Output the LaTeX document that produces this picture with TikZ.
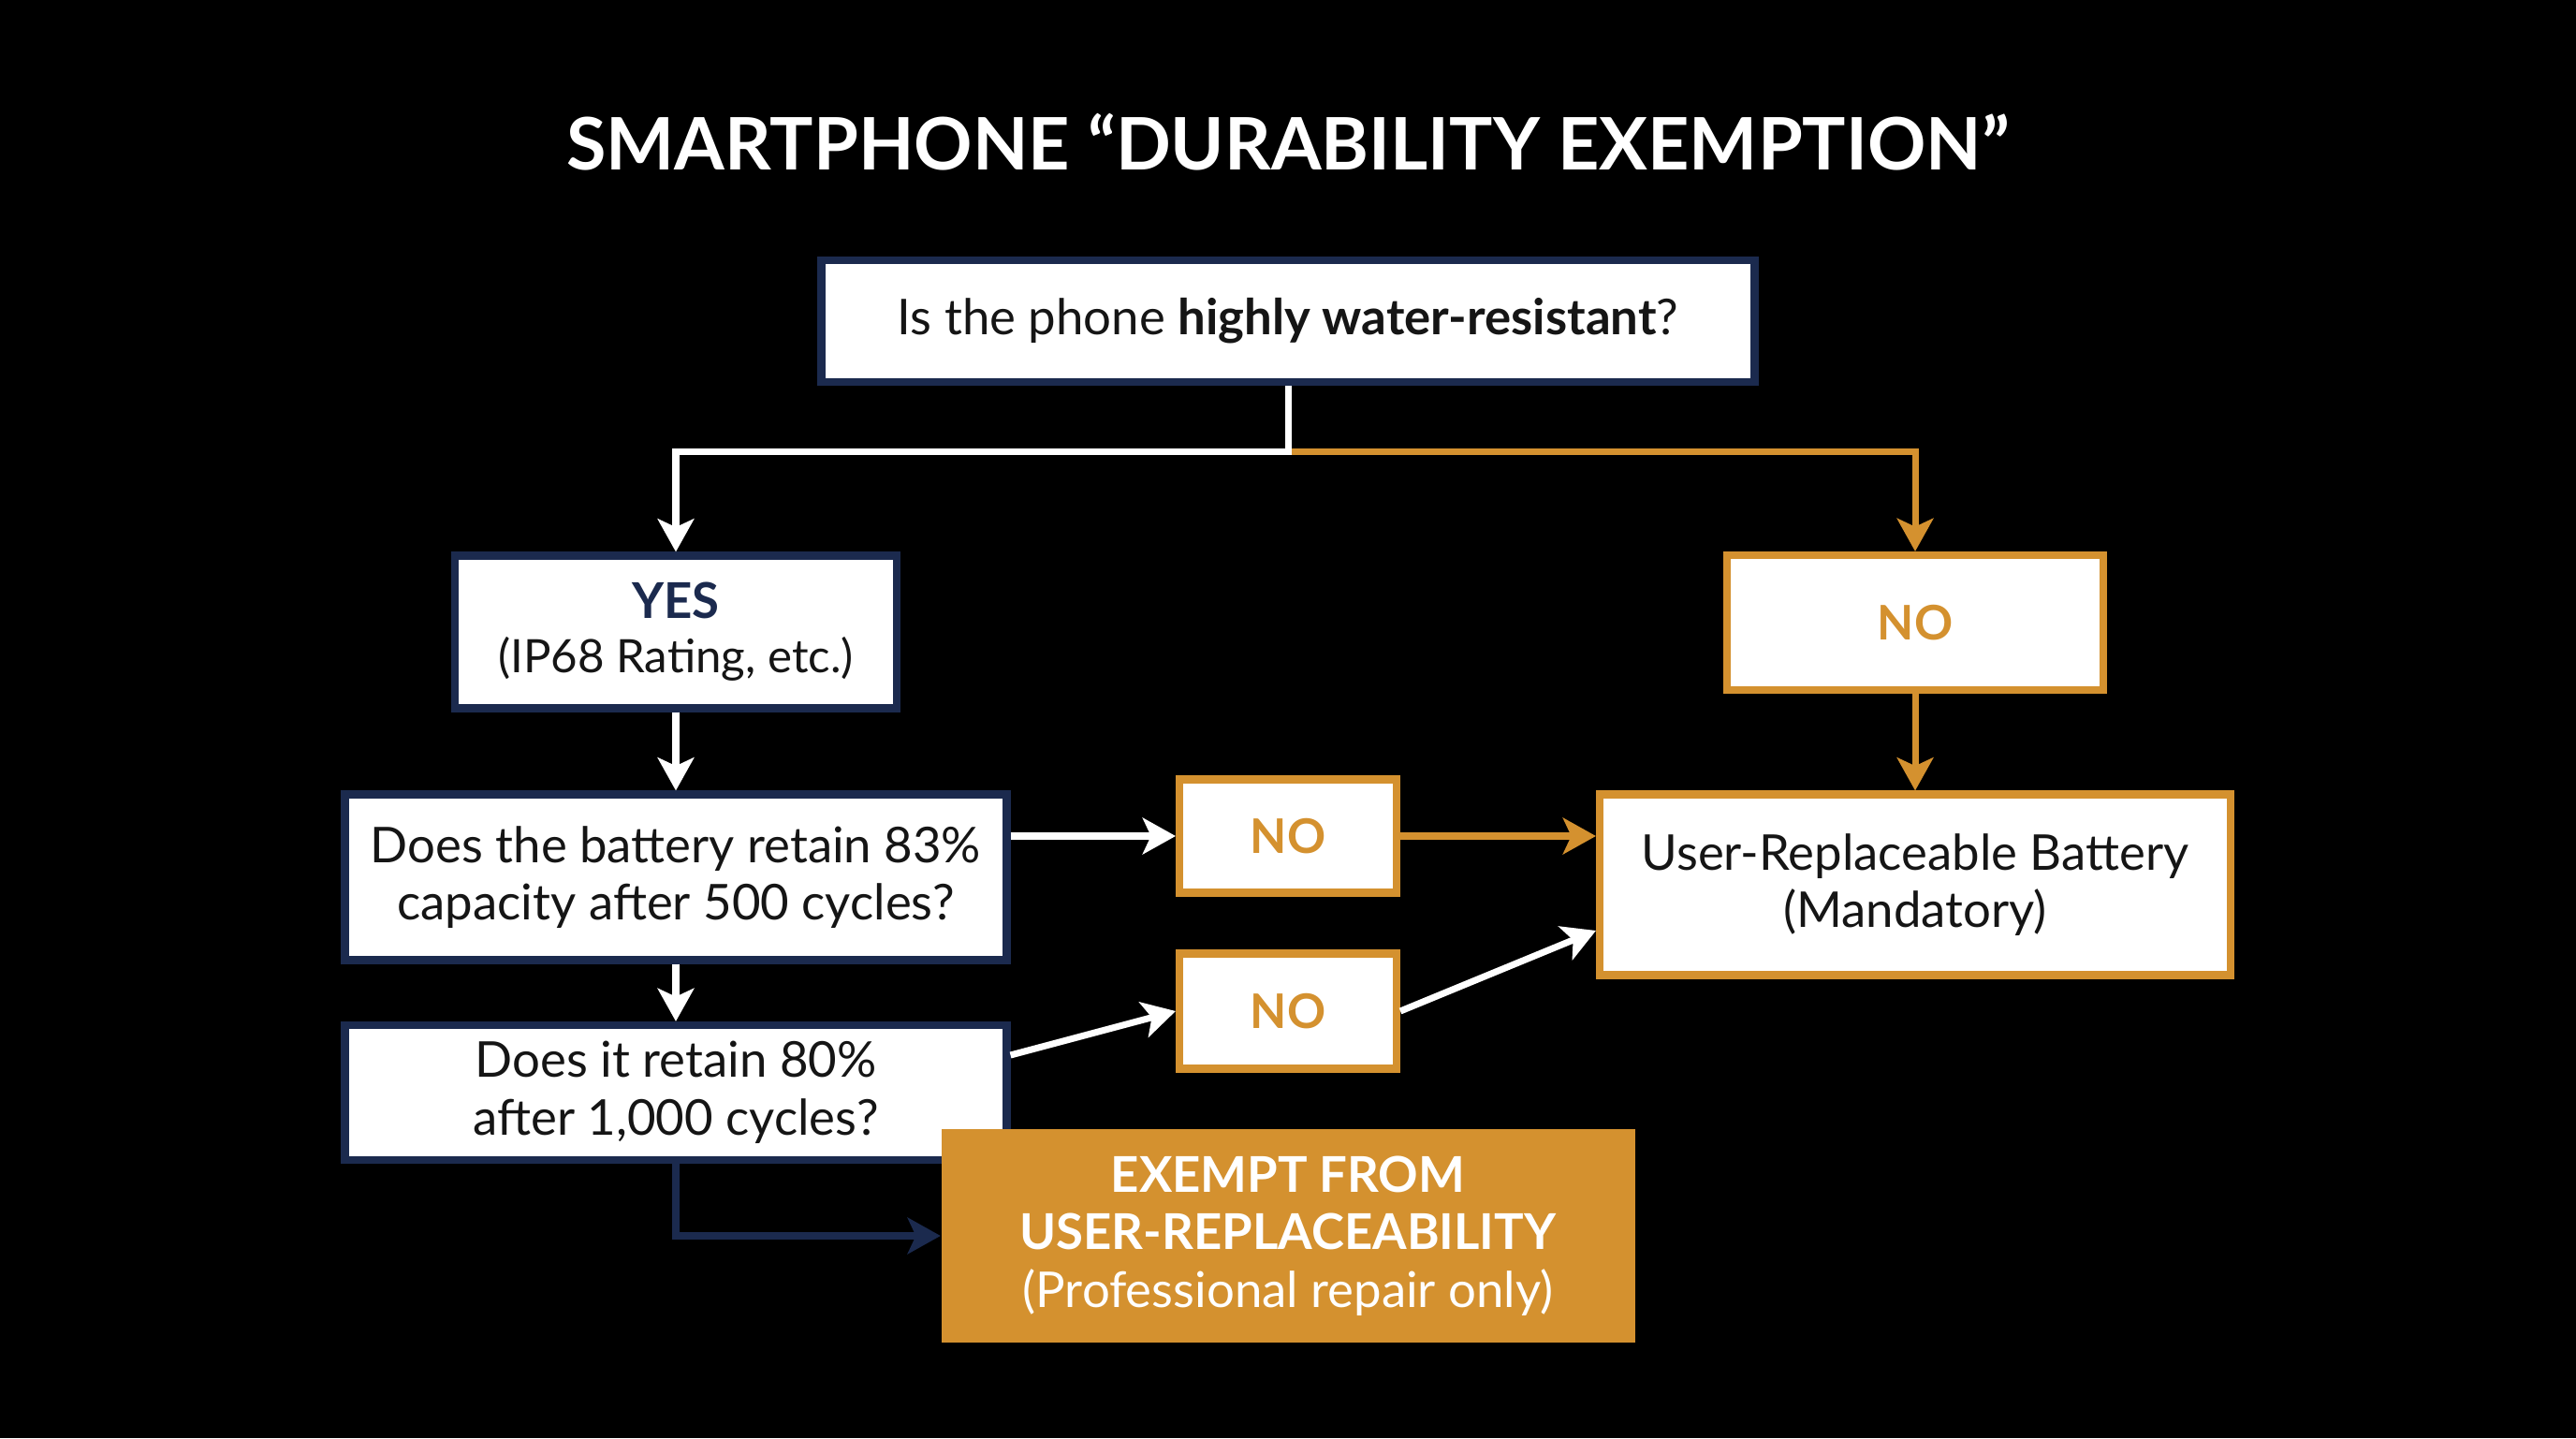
\documentclass[tikz,border=0pt]{standalone}
\usepackage{fontspec}
\setmainfont{Lato}
\usetikzlibrary{arrows.meta}
\definecolor{navy}{HTML}{1B2A4E}
\definecolor{amber}{HTML}{D4912F}
\definecolor{ink}{HTML}{151515}
\begin{document}
\begin{tikzpicture}[>={Stealth[length=10pt,width=11pt,inset=2.5pt]},
	qbox/.style={draw=navy,line width=2.3pt,fill=white,text=ink,align=center,inner sep=0pt,font=\fontsize{15}{17.5}\selectfont},
	nbox/.style={draw=amber,line width=2.3pt,fill=white,text=amber,align=center,inner sep=0pt,font=\fontsize{14.5}{17}\selectfont\bfseries},
	wire/.style={line width=2pt}];
		\fill [black] (0,0) rectangle (27.52,15.36);
		\useasboundingbox (0,0) rectangle (27.52,15.36);
		\node [white,font=\fontsize{22}{26}\selectfont\bfseries] (title) at (13.76,13.84) {SMARTPHONE “DURABILITY EXEMPTION”};
		\node [qbox,minimum width=9.97cm,minimum height=1.30cm] (water) at (13.76,11.93) {Is the phone \textbf{highly water-resistant}?};
		\node [qbox,minimum width=4.72cm,minimum height=1.63cm,font=\fontsize{14}{16.5}\selectfont] (yes) at (7.22,8.61) {\textcolor{navy}{\fontsize{15}{17}\selectfont\bfseries YES}\\(IP68 Rating, etc.)};
		\node [nbox,minimum width=4.02cm,minimum height=1.44cm] (noright) at (20.46,8.71) {NO};
		\node [qbox,minimum width=7.07cm,minimum height=1.77cm] (cyc500) at (7.22,5.99) {Does the battery retain 83\%\\capacity after 500 cycles?};
		\node [nbox,minimum width=2.32cm,minimum height=1.21cm] (noa) at (13.76,6.43) {NO};
		\node [qbox,draw=amber,minimum width=6.74cm,minimum height=1.93cm] (user) at (20.46,5.91) {User-Replaceable Battery\\(Mandatory)};
		\node [qbox,minimum width=7.07cm,minimum height=1.44cm] (cyc1000) at (7.22,3.69) {Does it retain 80\%\\after 1,000 cycles?};
		\node [nbox,minimum width=2.32cm,minimum height=1.23cm] (nob) at (13.76,4.56) {NO};
		\node [fill=amber,text=white,align=center,inner sep=0pt,minimum width=7.41cm,minimum height=2.28cm,font=\fontsize{15}{17.5}\selectfont] (exempt) at (13.76,2.16) {\textbf{EXEMPT FROM}\\\textbf{USER-REPLACEABILITY}\\(Professional repair only)};
		\coordinate (split) at (13.76,10.53);
		\draw [amber,wire,->] (split) -| (noright.north);
		\draw [white,wire,->] (water.south) -- (split) -| (yes.north);
		\draw [white,wire,->] (yes.south) -- (cyc500.north);
		\draw [amber,wire,->] (noright.south) -- (user.north);
		\draw [white,wire,->] (cyc500.east |- noa.west) -- (noa.west);
		\draw [amber,wire,->] (noa.east) -- (noa.east -| user.west);
		\draw [white,wire,->] (cyc500.south) -- (cyc1000.north);
		\draw [white,wire,->] ([yshift=0.4cm]cyc1000.east) -- (nob.west);
		\draw [white,wire,->] (nob.east) -- ([yshift=-0.49cm]user.west);
		\draw [navy,wire,->] (cyc1000.south) |- (exempt.west);
		\end{tikzpicture}
\end{document}
